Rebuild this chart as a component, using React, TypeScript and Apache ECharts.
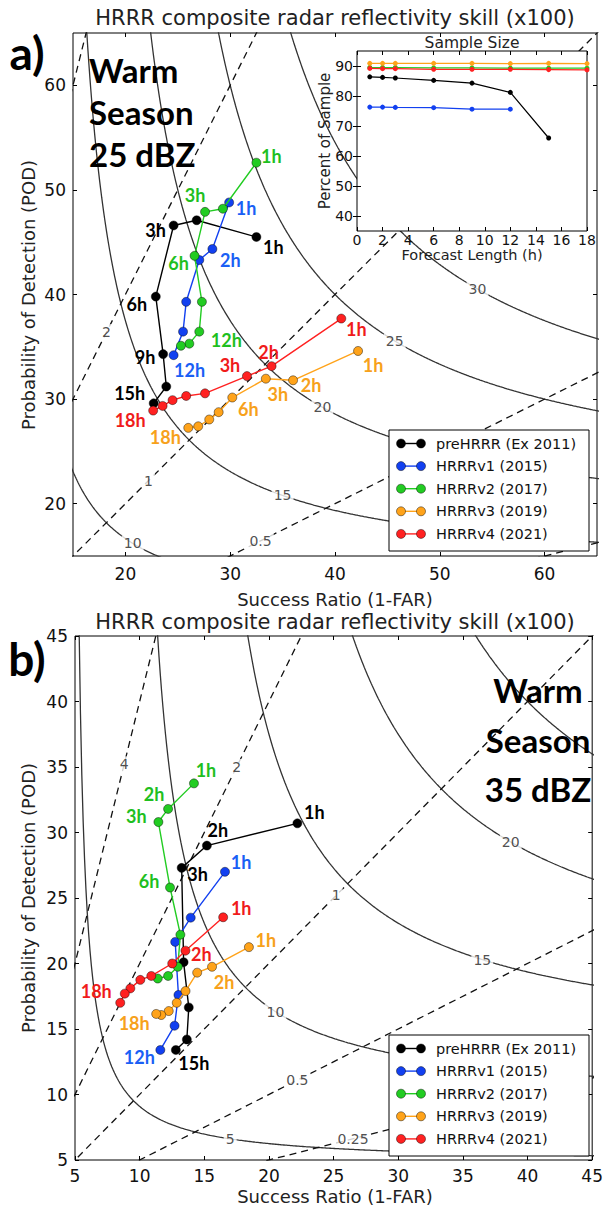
import React, { useEffect, useRef } from "react";
import * as echarts from "echarts";

// ---------------- data ----------------
const SERIES_NAMES = ["preHRRR (Ex 2011)", "HRRRv1 (2015)", "HRRRv2 (2017)", "HRRRv3 (2019)", "HRRRv4 (2021)"];

const HOURS_PRE = [1, 2, 3, 6, 9, 12, 15];
const HOURS_V1 = [1, 2, 3, 6, 9, 12];
const HOURS_V234 = [1, 2, 3, 6, 9, 12, 15, 18];

// Panel a (25 dBZ) : [success ratio, POD]
const A_PRE = [[32.5, 45.5], [26.8, 47.1], [24.6, 46.6], [22.9, 39.8], [23.6, 34.3], [23.9, 31.2], [22.7, 29.6]];
const A_V1 = [[29.9, 48.8], [28.3, 44.35], [27.05, 43.3], [25.8, 39.3], [25.5, 36.45], [24.6, 34.2]];
const A_V2 = [[32.5, 52.6], [29.3, 48.2], [27.6, 47.9], [26.6, 43.7], [27.3, 39.3], [27.05, 36.45], [26.1, 35.3], [25.3, 35.1]];
const A_V3 = [[42.2, 34.6], [36.0, 31.8], [33.4, 31.95], [30.2, 30.15], [28.9, 28.75], [28.0, 28.05], [26.95, 27.4], [26.0, 27.25]];
const A_V4 = [[40.6, 37.7], [33.95, 33.15], [31.6, 32.2], [27.6, 30.55], [25.8, 30.3], [24.5, 29.9], [23.55, 29.35], [22.65, 28.9]];

// Panel b (35 dBZ)
const B_PRE = [[22.2, 30.7], [15.2, 29.0], [13.25, 27.3], [13.4, 20.1], [13.8, 16.65], [13.65, 14.2], [12.8, 13.4]];
const B_V1 = [[16.6, 27.0], [13.95, 23.5], [12.75, 21.65], [13.0, 17.6], [12.7, 15.25], [11.6, 13.4]];
const B_V2 = [[14.2, 33.75], [12.2, 31.8], [11.45, 30.8], [12.35, 25.8], [13.15, 22.2], [12.95, 19.75], [12.2, 19.05], [11.4, 18.85]];
const B_V3 = [[18.45, 21.25], [15.6, 19.75], [14.45, 19.3], [13.55, 17.9], [12.87, 17.0], [12.25, 16.37], [11.67, 16.07], [11.28, 16.15]];
const B_V4 = [[16.46, 23.53], [13.54, 20.98], [12.52, 20.0], [10.9, 19.05], [10.05, 18.75], [9.28, 18.1], [8.85, 17.7], [8.5, 17.0]];

// Inset: percent of sample by forecast hour
const INSET_PRE = [86.4, 86.2, 86.0, 85.2, 84.3, 81.2, 66.0];
const INSET_V1 = [76.3, 76.3, 76.2, 76.1, 75.6, 75.6];
const INSET_V2 = [89.5, 89.5, 89.5, 89.4, 89.4, 89.3, 89.3, 89.3];
const INSET_V3 = [90.9, 90.9, 90.9, 90.9, 90.9, 90.8, 90.9, 90.8];
const INSET_V4 = [89.2, 89.1, 89.1, 88.9, 88.9, 88.9, 88.8, 88.7];

// contour levels
const A_CSI_LEVELS = [10, 15, 20, 25, 30];
const A_BIAS_LEVELS = [0.25, 0.5, 1, 2, 4];
const B_CSI_LEVELS = [5, 10, 15, 20, 25];
const B_BIAS_LEVELS = [0.25, 0.5, 1, 2, 4];

// axis tick labels
const A_TICKS = [20, 30, 40, 50, 60];
const INSET_Y_TICKS = [40, 50, 60, 70, 80, 90];

// ---------------- layout / style ----------------
const COLORS = ["#000000", "#1240f0", "#22cc22", "#ffa31a", "#ff2121"];
const LABEL_COLORS = ["#000000", "#1a5ff5", "#1fbf1f", "#f7a11b", "#f01b1b"];
const FONT = "'DejaVu Sans', sans-serif";
const BOLD_FONT = "Lato, 'Open Sans', sans-serif";

// label offsets (px) keyed by forecast hour
const A_LABELS = [
  { 1: [17, 10], 3: [-18, 5], 6: [-19, 7], 9: [-18, 3], 15: [-24, -10] },
  { 1: [17, 6], 2: [18, 11], 12: [16, 15] },
  { 1: [15, -7], 3: [-10, -17], 6: [-16, 7], 12: [27, 8] },
  { 1: [15, 14], 2: [18, 5], 3: [12, 15], 6: [16, 11], 18: [-23, 9] },
  { 1: [15, 10], 2: [-3, -14], 3: [-17, -11], 18: [-23, 9] },
];
const B_LABELS = [
  { 1: [17, -11], 2: [11, -16], 3: [16, 6], 15: [18, 13] },
  { 1: [16, -10], 12: [-21, 7] },
  { 1: [12, -13], 2: [-14, -15], 3: [-22, -6], 6: [-21, -7] },
  { 1: [17, -7], 2: [12, 15], 18: [-22, 9] },
  { 1: [18, -9], 2: [16, 3], 18: [-24, -12] },
];

const A_CSI_LABEL_SR: Record<number, number> = { 10: 20.7, 15: 35, 20: 38.8, 25: 45.7, 30: 53.6 };
const A_BIAS_LABEL_SR: Record<number, number> = { 0.5: 32.9, 1: 22.2, 2: 18.2 };
const B_CSI_LABEL_SR: Record<number, number> = { 5: 17, 10: 20.5, 15: 36.5, 20: 38.7 };
const B_BIAS_LABEL_SR: Record<number, number> = { 0.25: 26.5, 0.5: 22.2, 1: 25.2, 2: 17.5, 4: 8.8 };

function csiPod(level: number, sr: number) {
  const c = level / 100;
  const inv = 1 / c + 1 - 100 / sr;
  return 100 / inv;
}

function csiCurve(level: number) {
  const c = level / 100;
  const pts: number[][] = [];
  const n = 900;
  for (let i = 0; i <= n; i++) {
    const sr = c + ((1 - c) * i) / n;
    const inv = 1 / c + 1 - 1 / sr;
    if (inv <= 0) continue;
    pts.push([sr * 100, 100 / inv]);
  }
  return pts;
}

function backgroundSeries(axis: number, csi: number[], bias: number[], csiLab: Record<number, number>, biasLab: Record<number, number>) {
  const out: any[] = [];
  csi.forEach((lv) => {
    out.push({
      type: "line", xAxisIndex: axis, yAxisIndex: axis, data: csiCurve(lv), showSymbol: false, silent: true, z: 2,
      lineStyle: { color: "#333", width: 1.3 },
    });
  });
  bias.forEach((b) => {
    out.push({
      type: "line", xAxisIndex: axis, yAxisIndex: axis, data: [[0, 0], [100, 100 * b]], showSymbol: false, silent: true, z: 2,
      lineStyle: { color: "#111", width: 1.3, type: [7, 5] },
    });
  });
  const labData: any[] = [];
  Object.keys(csiLab).forEach((k) => {
    const lv = Number(k);
    const sr = csiLab[lv];
    labData.push({ value: [sr, csiPod(lv, sr)], name: String(lv) });
  });
  Object.keys(biasLab).forEach((k) => {
    const b = Number(k);
    const sr = biasLab[b];
    labData.push({ value: [sr, sr * b], name: String(b) });
  });
  out.push({
    type: "scatter", xAxisIndex: axis, yAxisIndex: axis, data: labData, symbolSize: 2, silent: true, z: 3,
    itemStyle: { color: "rgba(255,255,255,0)" },
    label: {
      show: true, position: "inside", formatter: (p: any) => p.name, color: "#222", fontSize: 14, fontFamily: FONT,
      backgroundColor: "#fff", padding: [1, 2], align: "center", verticalAlign: "middle",
    },
  });
  return out;
}

function dataSeries(axis: number, idx: number, pts: number[][], hours: number[], labels: any) {
  return {
    type: "line", name: SERIES_NAMES[idx], xAxisIndex: axis, yAxisIndex: axis, z: 5 + idx,
    symbol: "circle", symbolSize: 9, showAllSymbol: true,
    lineStyle: { color: COLORS[idx], width: 1.4 },
    itemStyle: { color: COLORS[idx], borderColor: "rgba(0,0,0,0.55)", borderWidth: 0.8 },
    data: pts.map((p, i) => {
      const off = labels[hours[i]];
      return {
        value: p,
        label: off
          ? {
              show: true, position: "inside", offset: off, formatter: hours[i] + "h", color: LABEL_COLORS[idx],
              fontSize: 18, fontWeight: "bold", fontFamily: BOLD_FONT, align: "center", verticalAlign: "middle",
            }
          : { show: false },
      };
    }),
  };
}

function insetSeries(idx: number, hours: number[], vals: number[]) {
  return {
    type: "line", name: "inset-" + idx, xAxisIndex: 4, yAxisIndex: 4, z: 12,
    symbol: "circle", symbolSize: 5, showAllSymbol: true,
    lineStyle: { color: COLORS[idx], width: 1.2 },
    itemStyle: { color: COLORS[idx] },
    data: hours.map((h, i) => [h, vals[i]]),
  };
}

const tick = { show: true, inside: true, length: 4, lineStyle: { color: "#000" } };
const lab = { color: "#111", fontSize: 17, fontFamily: FONT };

function axisPair(grid: number, min: number, max: number, opts: any, pos: [string, string], z = 4) {
  const main = {
    type: "value", gridIndex: grid, min, max, position: pos[0], z,
    splitLine: { show: false }, axisLine: { show: false },
    ...opts,
  };
  const other = {
    ...main, position: pos[1],
    axisLabel: { ...(opts.axisLabel || {}), show: false },
  };
  return [main, other];
}

function legendGraphic(top: number) {
  const els: any[] = [];
  const left = 389;
  const rowH = 22.6;
  els.push({
    type: "rect", shape: { x: left, y: top, width: 200, height: 121 }, z: 100,
    style: { fill: "#fff", stroke: "#000", lineWidth: 1 },
  });
  SERIES_NAMES.forEach((n, i) => {
    const y = top + 13.5 + i * rowH;
    els.push({ type: "line", shape: { x1: 401, y1: y, x2: 421, y2: y }, z: 101, style: { stroke: COLORS[i], lineWidth: 1.4 } });
    els.push({ type: "circle", shape: { cx: 401, cy: y, r: 4.5 }, z: 102, style: { fill: COLORS[i], stroke: "rgba(0,0,0,0.55)", lineWidth: 0.8 } });
    els.push({ type: "circle", shape: { cx: 421, cy: y, r: 4.5 }, z: 102, style: { fill: COLORS[i], stroke: "rgba(0,0,0,0.55)", lineWidth: 0.8 } });
    els.push({
      type: "text", x: 436, y, z: 102,
      style: { text: n, fontSize: 14.5, fontFamily: FONT, fill: "#111", align: "left", verticalAlign: "middle" },
    });
  });
  return els;
}

function txt(text: string, x: number, y: number, size: number, extra: any = {}) {
  return {
    type: "text", x, y, z: 100, rotation: extra.rotation || 0,
    style: {
      text, fontSize: size, fontFamily: extra.font || FONT, fontWeight: extra.weight || "normal",
      fill: extra.fill || "#111", align: extra.align || "center", verticalAlign: "middle",
    },
  };
}

export default function App() {
  const ref = useRef<HTMLDivElement>(null);
  useEffect(() => {
    document.body.style.margin = "0";
    const chart = echarts.init(ref.current!, null, { renderer: "svg" });

    const [ax0, ax1] = axisPair(0, 15, 65, {
      axisTick: { ...tick, customValues: A_TICKS },
      axisLabel: { ...lab, customValues: A_TICKS, margin: 9 },
    }, ["bottom", "top"]);
    const [ay0, ay1] = axisPair(0, 15, 65, {
      axisTick: { ...tick, customValues: A_TICKS },
      axisLabel: { ...lab, customValues: A_TICKS, margin: 7 },
    }, ["left", "right"]);
    const [bx0, bx1] = axisPair(1, 5, 45, {
      interval: 5, axisTick: tick, axisLabel: { ...lab, margin: 7 },
    }, ["bottom", "top"]);
    const [by0, by1] = axisPair(1, 5, 45, {
      interval: 5, axisTick: tick, axisLabel: { ...lab, margin: 7 },
    }, ["left", "right"]);
    const [ix0, ix1] = axisPair(2, 0, 18, {
      interval: 2, axisTick: tick, axisLabel: { ...lab, fontSize: 14, margin: 2 },
    }, ["bottom", "top"], 11);
    const [iy0, iy1] = axisPair(2, 35, 95, {
      axisTick: { ...tick, customValues: INSET_Y_TICKS },
      axisLabel: { ...lab, fontSize: 14, margin: 4, customValues: INSET_Y_TICKS },
    }, ["left", "right"], 11);

    const series: any[] = [
      ...backgroundSeries(0, A_CSI_LEVELS, A_BIAS_LEVELS, A_CSI_LABEL_SR, A_BIAS_LABEL_SR),
      ...backgroundSeries(2, B_CSI_LEVELS, B_BIAS_LEVELS, B_CSI_LABEL_SR, B_BIAS_LABEL_SR),
      dataSeries(0, 0, A_PRE, HOURS_PRE, A_LABELS[0]),
      dataSeries(0, 1, A_V1, HOURS_V1, A_LABELS[1]),
      dataSeries(0, 2, A_V2, HOURS_V234, A_LABELS[2]),
      dataSeries(0, 3, A_V3, HOURS_V234, A_LABELS[3]),
      dataSeries(0, 4, A_V4, HOURS_V234, A_LABELS[4]),
      dataSeries(2, 0, B_PRE, HOURS_PRE, B_LABELS[0]),
      dataSeries(2, 1, B_V1, HOURS_V1, B_LABELS[1]),
      dataSeries(2, 2, B_V2, HOURS_V234, B_LABELS[2]),
      dataSeries(2, 3, B_V3, HOURS_V234, B_LABELS[3]),
      dataSeries(2, 4, B_V4, HOURS_V234, B_LABELS[4]),
      insetSeries(0, HOURS_PRE, INSET_PRE),
      insetSeries(1, HOURS_V1, INSET_V1),
      insetSeries(2, HOURS_V234, INSET_V2),
      insetSeries(3, HOURS_V234, INSET_V3),
      insetSeries(4, HOURS_V234, INSET_V4),
    ];

    const title = "HRRR composite radar reflectivity skill (x100)";
    const W = { weight: "bold", font: BOLD_FONT, fill: "#000" };
    const graphic: any[] = [
      txt(title, 335, 18, 21, { fill: "#222" }),
      txt(title, 335, 622, 21, { fill: "#222" }),
      txt("a)", 27, 52, 46, W),
      txt("b)", 27, 658, 46, W),
      txt("Warm", 89, 70, 33, { ...W, align: "left" }),
      txt("Season", 89, 112, 33, { ...W, align: "left" }),
      txt("25 dBZ", 89, 154, 33, { ...W, align: "left" }),
      txt("Warm", 538, 690, 33, W),
      txt("Season", 538, 740, 33, W),
      txt("35 dBZ", 538, 789, 33, W),
      txt("Probability of Detection (POD)", 28, 295, 18, { rotation: Math.PI / 2, fill: "#222" }),
      txt("Probability of Detection (POD)", 28, 898, 18, { rotation: Math.PI / 2, fill: "#222" }),
      txt("Success Ratio (1-FAR)", 335, 599, 18, { fill: "#222" }),
      txt("Success Ratio (1-FAR)", 335, 1196, 18, { fill: "#222" }),
      txt("Sample Size", 472, 43, 15.5, { fill: "#222" }),
      txt("Forecast Length (h)", 472, 255, 14.5, { fill: "#222" }),
      txt("Percent of Sample", 325, 141, 15, { rotation: Math.PI / 2, fill: "#222" }),
      ...legendGraphic(430),
      ...legendGraphic(1035),
    ];

    chart.setOption({
      animation: false,
      backgroundColor: "#fff",
      grid: [
        { left: 73, top: 33, width: 524, height: 523, show: true, borderColor: "#000", borderWidth: 1, backgroundColor: "transparent" },
        { left: 75, top: 636, width: 520, height: 524, show: true, borderColor: "#000", borderWidth: 1, backgroundColor: "transparent" },
        { left: 357, top: 51, width: 230, height: 180, show: true, borderColor: "#000", borderWidth: 1, backgroundColor: "#fff", z: 10 },
      ],
      xAxis: [ax0, ax1, bx0, bx1, ix0, ix1],
      yAxis: [ay0, ay1, by0, by1, iy0, iy1],
      series,
      graphic,
    });
    return () => chart.dispose();
  }, []);
  return <div ref={ref} style={{ width: 606, height: 1209 }} />;
}
